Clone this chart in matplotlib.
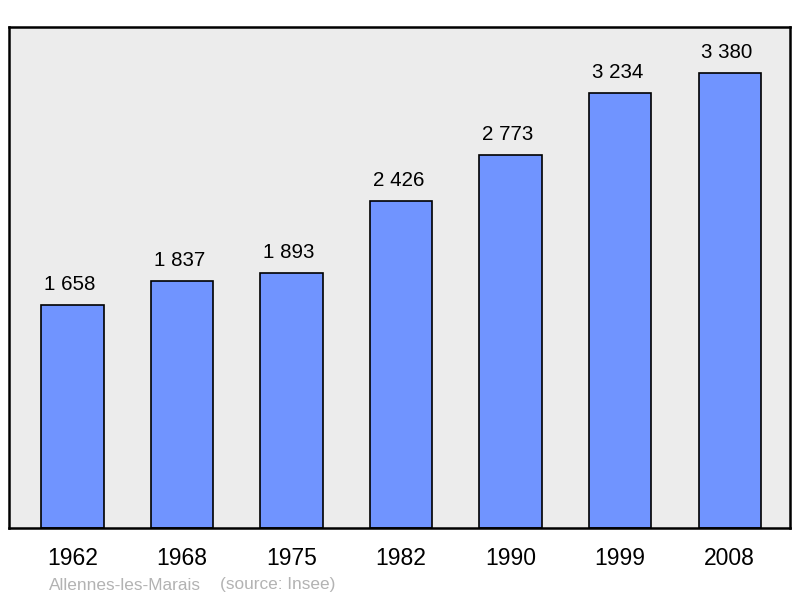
import matplotlib.pyplot as plt

years = ['1962', '1968', '1975', '1982', '1990', '1999', '2008']
population = [1658, 1837, 1893, 2426, 2773, 3234, 3380]
labels = ['1 658', '1 837', '1 893', '2 426', '2 773', '3 234', '3 380']

plt.rcParams['font.family'] = ['Liberation Sans', 'DejaVu Sans']

fig = plt.figure(figsize=(8, 5.98), dpi=100)
ax = fig.add_axes([9 / 800, 70 / 598, 781 / 800, 501 / 598])
ax.set_facecolor('#ececec')

xpos = range(len(years))
ax.bar(xpos, population, width=0.57, color='#7094ff', edgecolor='black', linewidth=1.2)

for x, v, lab in zip(xpos, population, labels):
    ax.annotate(lab, (x, v), xytext=(-2, 8), textcoords='offset points',
                ha='center', va='bottom', fontsize=14.8)

ax.set_xlim(-0.58, 6.55)
ax.set_ylim(0, 3722)
ax.set_yticks([])
ax.set_xticks(list(xpos))
ax.set_xticklabels(years, fontsize=16.5)
ax.tick_params(axis='x', length=0, pad=14)
for s in ax.spines.values():
    s.set_linewidth(1.8)

fig.text(49 / 800, 1 - 585 / 598, 'Allennes-les-Marais', color='#b3b3b3',
         fontsize=12.4, va='center', ha='left')
fig.text(220 / 800, 1 - 585 / 598, '(source: Insee)', color='#b3b3b3',
         fontsize=12.4, va='center', ha='left')

fig.savefig('out.png', dpi=100)
